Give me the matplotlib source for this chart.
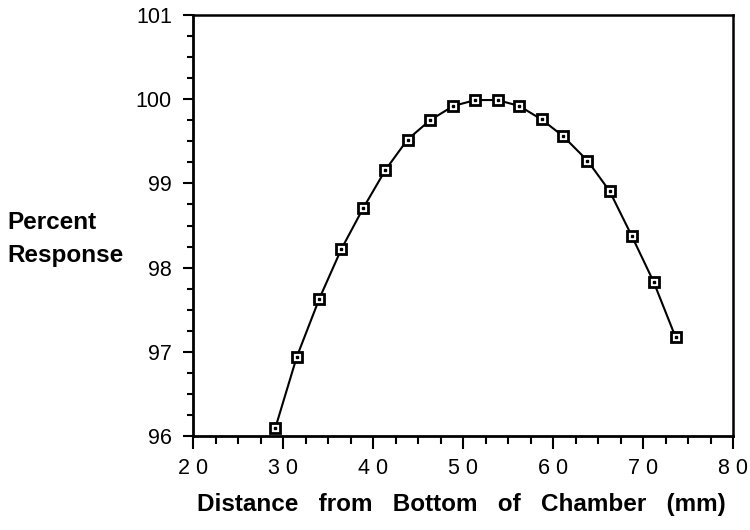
import matplotlib
matplotlib.use("Agg")
import matplotlib.pyplot as plt
from matplotlib.ticker import MultipleLocator, FuncFormatter

# data
distance_mm = [29.1, 31.5, 34.0, 36.45, 38.9, 41.35, 43.8, 46.3, 48.9, 51.35,
               53.8, 56.2, 58.7, 61.1, 63.8, 66.25, 68.7, 71.15, 73.6]
percent_response = [96.09, 96.94, 97.63, 98.22, 98.71, 99.16, 99.52, 99.75, 99.92, 99.99,
                    99.99, 99.92, 99.76, 99.56, 99.27, 98.91, 98.38, 97.83, 97.17]

plt.rcParams['font.family'] = ['Liberation Sans', 'DejaVu Sans']

fig = plt.figure(figsize=(7.5, 5.3), dpi=100)
ax = fig.add_axes([193.3 / 750, 94 / 530, 540 / 750, 421 / 530])

ax.plot(distance_mm, percent_response, color='black', lw=1.5,
        marker='s', ms=7.4, mfc='white', mec='black', mew=2.0, zorder=3)
# little dot in the middle of each square
ax.plot(distance_mm, percent_response, ls='none', marker='s', ms=1.8,
        color='black', zorder=4)

ax.set_xlim(20, 80)
ax.set_ylim(96, 101)
ax.xaxis.set_major_locator(MultipleLocator(10))
ax.xaxis.set_minor_locator(MultipleLocator(2.5))
ax.yaxis.set_major_locator(MultipleLocator(1))
ax.yaxis.set_minor_locator(MultipleLocator(0.25))

# x tick labels have spaced-out digits
ax.xaxis.set_major_formatter(FuncFormatter(lambda v, p: " ".join(str(int(v)))))

ax.tick_params(which='both', direction='out', width=1.5, color='black')
ax.tick_params(axis='x', which='major', length=9, pad=7, labelsize=15.5)
ax.tick_params(axis='x', which='minor', length=5.5)
ax.tick_params(axis='y', which='major', length=7.5, pad=8, labelsize=15.5)
ax.tick_params(axis='y', which='minor', length=4)

for side in ['left', 'bottom']:
    ax.spines[side].set_linewidth(2)
for side in ['top', 'right']:
    ax.spines[side].set_linewidth(1.8)

fig.text(461.5 / 750, 1 - 511 / 530, "Distance   from   Bottom   of   Chamber   (mm)",
         fontsize=17.5, fontweight='bold', ha='center', va='baseline')
fig.text(7 / 750, 1 - 229 / 530, "Percent", fontsize=17.5, fontweight='bold',
         ha='left', va='baseline')
fig.text(7 / 750, 1 - 262 / 530, "Response", fontsize=17.5, fontweight='bold',
         ha='left', va='baseline')

fig.savefig("out.png", dpi=100)
